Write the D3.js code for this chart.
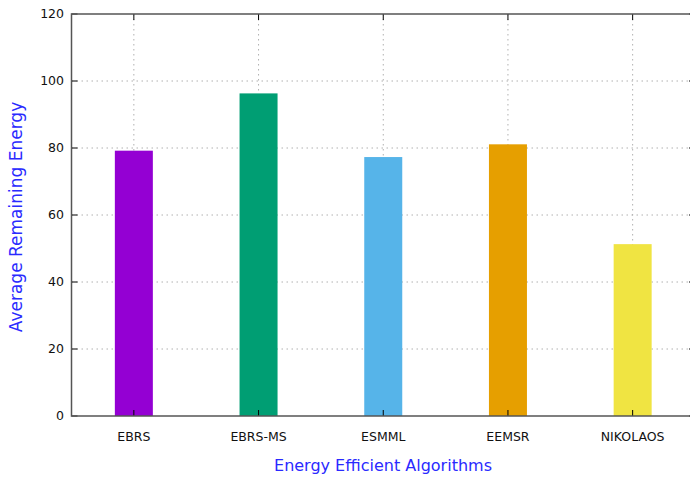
<!DOCTYPE html>
<html><head><meta charset="utf-8">
<script src="https://cdn.jsdelivr.net/npm/d3@7"></script>
<style>body{margin:0;background:#fff}svg{display:block}</style>
</head><body>
<svg id="c" width="690" height="477"></svg>
<script>
const categories = ["EBRS","EBRS-MS","ESMML","EEMSR","NIKOLAOS"];
const values = [79.2, 96.3, 77.3, 81.1, 51.3];
const colors = ["#9400d3","#009e73","#56b4e9","#e69f00","#f0e442"];
const yTicks = [0,20,40,60,80,100,120];

const svg = d3.select("#c");
const L = 71.5, R = 695, T = 14, B = 416;
const x = d3.scaleLinear().domain([-0.5, 4.5]).range([L, R]);
const y = d3.scaleLinear().domain([0, 120]).range([B, T]);
const font = "DejaVu Sans";

// grid
const g = svg.append("g");
g.selectAll("line.hg").data(yTicks.filter(d=>d>0 && d<120)).enter().append("line")
  .attr("x1", L).attr("x2", R).attr("y1", d=>y(d)).attr("y2", d=>y(d))
  .attr("stroke", "#b0b0b0").attr("stroke-width", 1).attr("stroke-dasharray", "1.5,3.5");
g.selectAll("line.vg").data(categories).enter().append("line")
  .attr("x1", (d,i)=>x(i)).attr("x2", (d,i)=>x(i)).attr("y1", T).attr("y2", B)
  .attr("stroke", "#b0b0b0").attr("stroke-width", 1).attr("stroke-dasharray", "1.5,3.5");

// bars
const bw = 38;
svg.selectAll("rect.bar").data(values).enter().append("rect")
  .attr("x", (d,i)=>x(i)-bw/2).attr("width", bw)
  .attr("y", d=>y(d)).attr("height", d=>B-y(d))
  .attr("fill", (d,i)=>colors[i]);

// ticks
const tk = svg.append("g").attr("stroke", "#000").attr("stroke-width", 1);
yTicks.forEach(d=>{
  tk.append("line").attr("x1", L).attr("x2", L+6).attr("y1", y(d)).attr("y2", y(d));
  tk.append("line").attr("x1", R-6).attr("x2", R).attr("y1", y(d)).attr("y2", y(d));
});
categories.forEach((c,i)=>{
  tk.append("line").attr("x1", x(i)).attr("x2", x(i)).attr("y1", T).attr("y2", T+6);
  tk.append("line").attr("x1", x(i)).attr("x2", x(i)).attr("y1", B).attr("y2", B-6);
});

// border
svg.append("rect").attr("x", L).attr("y", T).attr("width", R-L).attr("height", B-T)
  .attr("fill", "none").attr("stroke", "#555").attr("stroke-width", 1.5);

// tick labels
svg.selectAll("text.yt").data(yTicks).enter().append("text")
  .attr("x", 64).attr("y", d=>y(d)).attr("dy", "0.35em").attr("text-anchor", "end")
  .attr("font-family", font).attr("font-size", 12.5).attr("fill", "#111").text(d=>d);
svg.selectAll("text.xt").data(categories).enter().append("text")
  .attr("x", (d,i)=>x(i)).attr("y", 441).attr("text-anchor", "middle")
  .attr("font-family", font).attr("font-size", 12.5).attr("fill", "#111").text(d=>d);

// axis titles
svg.append("text").attr("x", 383).attr("y", 471).attr("text-anchor", "middle")
  .attr("font-family", font).attr("font-size", 16).attr("fill", "#2a2aff")
  .text("Energy Efficient Algorithms");
svg.append("text").attr("transform", "translate(22,217) rotate(-90)").attr("text-anchor", "middle")
  .attr("font-family", font).attr("font-size", 17).attr("fill", "#2a2aff")
  .text("Average Remaining Energy");
</script>
</body></html>
